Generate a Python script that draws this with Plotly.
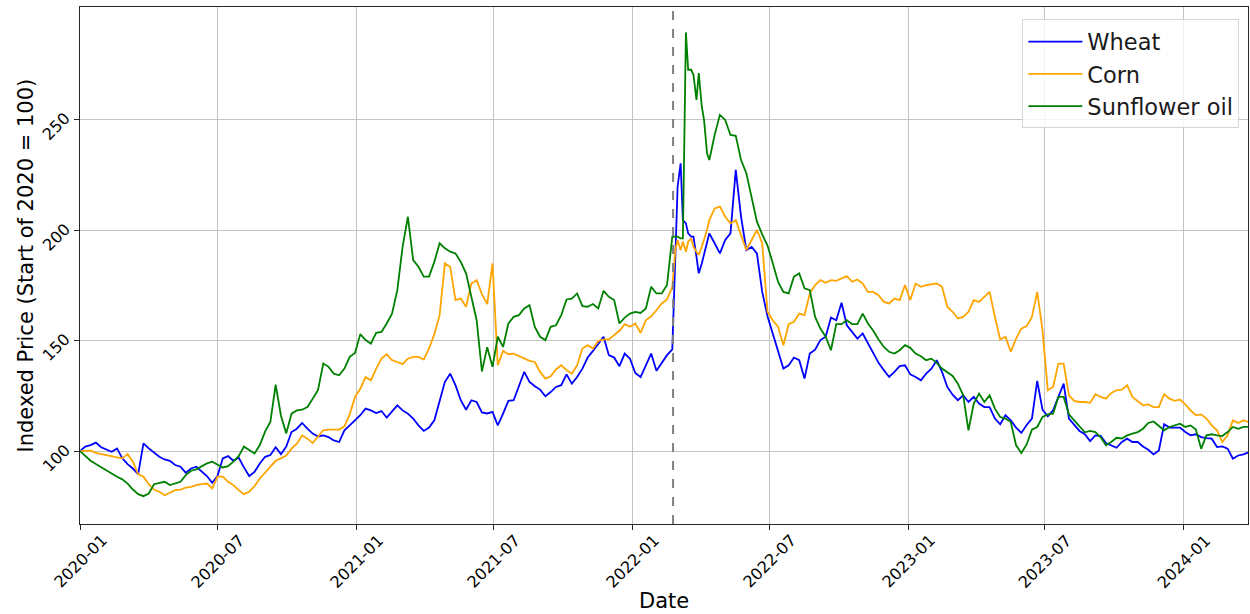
import pandas as pd
import plotly.graph_objects as go

# weekly observations from 2020-01-01 (222 weeks) + extra mid-week points around the invasion
weekly_start = "2020-01-01"
n_weeks = 222
extra_start = "2022-02-27"
n_extra = 7
invasion_date = "2022-02-24"

wheat_weekly = [
    100, 102, 102.7, 103.8, 101.7, 100.8, 99.7, 101.2, 96.7, 94.1,
    92.1, 89.6, 103.5, 101.2, 99.5, 97.4, 96.2, 95.6, 93.7, 92.9,
    90.2, 92.1, 92.9, 90.6, 88.7, 85.6, 88.7, 96.7, 97.7, 95.6,
    97.1, 92.6, 88.7, 90.6, 94.4, 97.4, 98.2, 101.7, 98.6, 102,
    108.6, 110.1, 112.7, 110.1, 107.9, 106.6, 107.1, 106.3, 104.8, 104.1,
    109.4, 111.6, 113.9, 116.2, 119.2, 118.4, 117.2, 118.1, 115.1, 117.7,
    120.7, 118.4, 116.9, 114.7, 111.6, 109.1, 110.6, 113.9, 123, 131.3,
    135, 129.8, 123, 118.7, 123, 122.2, 117.5, 117, 117.7, 111.6,
    116.9, 122.7, 123, 129.8, 135.8, 131.3, 129.3, 127.8, 124.8, 126.7,
    129, 129.8, 134.7, 130.5, 133.5, 137.3, 142.3, 145.3, 148.6, 151.7,
    143.4, 142.3, 138.4, 144.1, 141.8, 135.3, 133.5, 138.8, 144.1, 136.3,
    139.6, 143.4, 146, 219.6, 204.5, 198.5, 197, 180.4, 189.4, 198.5,
    194, 189.4, 195.5, 198.5, 227.2, 206, 190.9, 192.4, 189.4, 172,
    161, 153.2, 145.6, 137.3, 138.8, 142.3, 141.1, 132.8, 144.1, 145.9,
    150.2, 151.7, 160.4, 159.2, 167.1, 156.9, 153.9, 150.9, 153.2, 148.6,
    144.1, 139.9, 136.6, 133.5, 135.8, 138.4, 138.8, 134.7, 133.5, 132,
    135, 137.3, 141.1, 135.8, 129, 125.5, 123, 125.2, 122.2, 124.5,
    121.5, 119.9, 119.9, 114.7, 112.1, 116.2, 113.9, 110.6, 108.2, 111.8,
    114.7, 131.7, 118.7, 115.7, 118.4, 124.5, 130.5, 114.7, 112.1, 109.1,
    107.6, 104.5, 107.1, 106.9, 103.6, 102.6, 101.5, 104.1, 105.6, 104.1,
    104.1, 102.1, 100.6, 98.5, 100.3, 112.1, 110.6, 110.6, 110.6, 108.6,
    107.1, 107.6, 106.3, 105.9, 105.6, 101.8, 102.1, 101.1, 96.5, 98,
    98.5, 99.5,
]
wheat_extra = [186.4, 230.2, 203, 197, 187.9, 184.9, 195.5]

corn_weekly = [
    100, 100.2, 100.2, 99.2, 98.6, 98.2, 97.7, 97.1, 96.7, 98.6,
    95.2, 89.6, 88.4, 85, 82.6, 81.6, 80, 81.1, 82.3, 82.6,
    83.5, 83.8, 84.6, 85, 85.3, 83.1, 88.4, 88.4, 86.1, 84.6,
    82.3, 80.5, 81.6, 84.1, 87.6, 90.2, 92.9, 95.6, 96.7, 98,
    101.1, 103.3, 107.1, 105.6, 103.6, 106.6, 109.4, 109.7, 109.7, 109.7,
    111.2, 116.6, 124.5, 128.2, 133.5, 132, 137.3, 141.8, 143.8, 141.1,
    140.3, 139.3, 141.8, 142.6, 142.6, 141.4, 146.4, 152.9, 161.5, 184.9,
    183.4, 168.3, 169, 165.3, 175.8, 177.3, 171, 166.5, 184.9, 138.8,
    145.3, 143.8, 144.1, 142.9, 141.8, 140.8, 140.3, 135.8, 132.8, 133.8,
    136.9, 138.8, 136.6, 135, 138.8, 146.4, 147.9, 146.4, 149.8, 150.5,
    150.5, 152.4, 154.4, 157.4, 156.2, 157.7, 153.5, 159.2, 161, 163.7,
    166.8, 168.6, 174.3, 195.5, 194.7, 194.7, 192.4, 188.7, 195.5, 204.5,
    209.8, 210.6, 206, 203, 204.5, 197.7, 190.9, 195.5, 200, 194,
    163, 159.2, 156.2, 147.9, 157.4, 158.5, 162.2, 161.5, 171.3, 175.1,
    177.3, 176.1, 177.3, 177, 178.1, 179.2, 176.6, 177.6, 175.8, 172,
    172, 170.5, 167.5, 166.8, 169, 168.3, 175.1, 168.3, 175.8, 174.3,
    175.1, 175.5, 175.8, 174.3, 165.3, 163, 160, 160.7, 163, 168.3,
    167.5, 169.8, 172, 160.7, 150.5, 151.7, 144.9, 150.9, 155.4, 156.5,
    160.7, 172, 154.7, 127.5, 129, 139.6, 139.6, 125.2, 122.7, 122.2,
    122.2, 121.8, 125.7, 124.5, 123.7, 126.3, 127.5, 127.8, 129.8, 124.5,
    122.7, 120.7, 121.1, 119.9, 119.9, 125.7, 123.7, 122.7, 123.3, 121.1,
    118.4, 116.2, 116.6, 114.7, 111.6, 109.4, 104.1, 107.1, 113.9, 112.7,
    113.9, 113.1,
]
corn_extra = [190.9, 190.9, 190.2, 196.2, 190.2, 192.4, 200]

sunflower_weekly = [
    100, 97.7, 95.6, 94.1, 92.6, 91.1, 89.6, 88.4, 87.2, 85.3,
    82.6, 80.5, 79.6, 80.8, 85, 85.6, 86.1, 84.6, 85.3, 86.1,
    89.1, 91.1, 91.7, 92.9, 94.4, 95.2, 93.7, 92.6, 93.2, 95.2,
    97.7, 102, 100.5, 98.9, 102.7, 108.8, 113.3, 130, 116, 108,
    116.9, 118.4, 118.7, 119.9, 123.7, 127.5, 139.6, 138.1, 135, 134.3,
    137.3, 142.6, 144.4, 152.9, 150.2, 148.6, 153.5, 153.9, 157.7, 162.2,
    172.8, 192.4, 206, 186.4, 183.4, 178.9, 178.9, 185.6, 194, 191.7,
    190.2, 189.4, 185.6, 180.4, 169.8, 159.2, 136, 147, 138.1, 151.7,
    147.1, 157.7, 160.7, 161.5, 164.5, 166, 156.2, 151.7, 150.2, 156.2,
    156.9, 161.5, 168.6, 169, 171.3, 165.6, 165.3, 166.5, 164.5, 172.5,
    169.8, 168.3, 157.7, 160.4, 162.2, 163, 162.5, 164.5, 174.3, 171.3,
    171.3, 175.1, 197, 197, 196.2, 272.5, 270.2, 271, 249.8, 231.7,
    243, 252.1, 249.8, 243, 242.6, 231.7, 225.7, 214.4, 203.8, 198,
    193, 185, 176.5, 172, 171.3, 178.9, 180.4, 173.6, 172.8, 160.7,
    155.4, 151.7, 145.6, 157.4, 157.4, 159.2, 157.4, 157.4, 162.2, 157.7,
    154.4, 150.5, 147.1, 144.9, 144.1, 145.6, 147.9, 146.7, 144.1, 142.9,
    141.1, 141.8, 139.9, 137.3, 135.8, 134, 130.5, 125.2, 109.4, 121.5,
    126, 122.2, 125.2, 119.2, 115.4, 114.7, 113.1, 102.6, 99.1, 103,
    109.7, 110.9, 115.4, 116.6, 116.9, 124.5, 124.5, 116.6, 113.9, 111.2,
    108.5, 109.1, 108.6, 106.2, 102.6, 104.1, 106, 105.7, 107.1, 107.9,
    108.6, 110.1, 112.7, 113.4, 111.6, 109.4, 110.9, 111.6, 112.4, 110.9,
    111.6, 109.7, 101, 107.1, 107.6, 107.1, 106.8, 108.6, 110.9, 110.1,
    110.9, 110.9,
]
sunflower_extra = [197, 196.2, 289.4, 272.5, 258.9, 255.9, 234.7]

series_names = ["Wheat", "Corn", "Sunflower oil"]
series_colors = ["#0000ff", "#ffa500", "#008000"]

x_tick_labels = ["2020-01", "2020-07", "2021-01", "2021-07", "2022-01",
                 "2022-07", "2023-01", "2023-07", "2024-01"]
x_range = ["2020-01-01", "2024-03-26"]
y_range = [67.0, 300.9]
y_ticks = [100, 150, 200, 250]
x_title = "Date"
y_title = "Indexed Price (Start of 2020 = 100)"

weekly_dates = pd.date_range(weekly_start, periods=n_weeks, freq="7D")
extra_dates = pd.date_range(extra_start, periods=n_extra, freq="7D")
all_dates = weekly_dates.append(extra_dates)


def build(weekly, extra):
    return pd.Series(list(weekly) + list(extra), index=all_dates).sort_index()


series = [build(wheat_weekly, wheat_extra), build(corn_weekly, corn_extra),
          build(sunflower_weekly, sunflower_extra)]

FONT = "DejaVu Sans, sans-serif"
W, H = 1250, 614
M_L, M_R, M_T, M_B = 80, 2, 7, 90
plot_w = W - M_L - M_R
plot_h = H - M_T - M_B
TICK_FONT = 16

fig = go.Figure()
for name, color, s in zip(series_names, series_colors, series):
    fig.add_trace(go.Scatter(x=s.index, y=s.values, mode="lines", name=name,
                             legendgroup=name, line=dict(color=color, width=1.8)))

fig.add_shape(type="line", xref="x", yref="paper", x0=invasion_date, x1=invasion_date,
              y0=0, y1=1, line=dict(color="#7f7f7f", width=2, dash="dash"))

tick_dates = [pd.Timestamp(t + "-01") for t in x_tick_labels]
annotations = []
# x tick labels (rotated, centred on the tick like matplotlib)
for t, d in zip(x_tick_labels, tick_dates):
    annotations.append(dict(x=d, xref="x", y=-37 / plot_h, yref="paper", text=t,
                            textangle=-45, showarrow=False, xanchor="center",
                            yanchor="middle",
                            font=dict(size=TICK_FONT, family=FONT, color="#000")))
# y tick labels
for v in y_ticks:
    annotations.append(dict(x=-24 / plot_w, xref="paper", y=v, yref="y", yshift=-7,
                            text=str(v), textangle=-45, showarrow=False, xanchor="center",
                            yanchor="middle",
                            font=dict(size=TICK_FONT, family=FONT, color="#000")))
# axis titles
annotations.append(dict(x=0.5, xref="paper", y=-77 / plot_h, yref="paper", text=x_title,
                        showarrow=False, xanchor="center", yanchor="middle",
                        font=dict(size=21, family=FONT, color="#000")))
annotations.append(dict(x=-55 / plot_w, xref="paper", y=0.5, yref="paper", text=y_title,
                        textangle=-90, showarrow=False, xanchor="center", yanchor="middle",
                        font=dict(size=21, family=FONT, color="#000")))

fig.update_layout(
    width=W, height=H,
    margin=dict(l=M_L, r=M_R, t=M_T, b=M_B),
    paper_bgcolor="white", plot_bgcolor="white",
    font=dict(family=FONT, color="#000000"),
    showlegend=True,
    legend=dict(x=0.9926, y=0.976, xanchor="right", yanchor="top",
                bgcolor="rgba(255,255,255,0.8)", bordercolor="#d6d6d6", borderwidth=1,
                font=dict(size=22.5, family=FONT, color="#1a1a1a"), tracegroupgap=0,
                itemwidth=54),
    annotations=annotations,
)
fig.update_xaxes(
    range=x_range, type="date", tickvals=tick_dates, showticklabels=False,
    showgrid=True, gridcolor="#c4c4c4", gridwidth=1, automargin=False,
    showline=True, linecolor="#262626", linewidth=1, mirror=True,
    ticks="outside", ticklen=5, tickcolor="#262626", zeroline=False,
)
fig.update_yaxes(
    range=y_range, tickvals=y_ticks, showticklabels=False,
    showgrid=True, gridcolor="#c4c4c4", gridwidth=1, automargin=False,
    showline=True, linecolor="#262626", linewidth=1, mirror=True,
    ticks="outside", ticklen=5, tickcolor="#262626", zeroline=False,
)

fig.write_html("out.html", config={"displayModeBar": False},
               post_script="document.body.style.margin='0px';")
